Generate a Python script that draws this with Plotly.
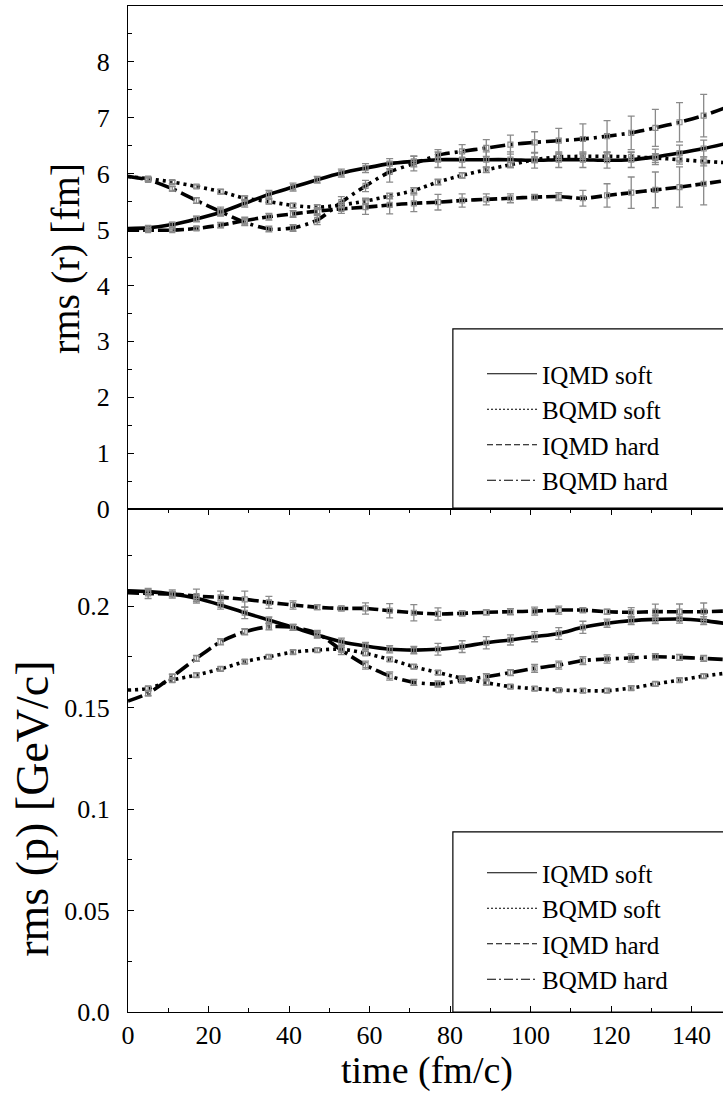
import plotly.graph_objects as go
from plotly.subplots import make_subplots

# ---------------- data ----------------
t_line = [0, 5, 11, 17, 23, 29, 35, 41, 47, 53, 59, 65, 71, 77, 83, 89, 95,
          101, 107, 113, 119, 125, 131, 137, 143, 148]

# rms(r) [fm]
iqmd_soft_r = [5.02, 5.03, 5.09, 5.19, 5.31, 5.47, 5.63, 5.76, 5.89, 6.01, 6.10, 6.18, 6.22,
               6.25, 6.25, 6.25, 6.25, 6.24, 6.25, 6.25, 6.24, 6.25, 6.30, 6.37, 6.45, 6.53]
bqmd_soft_r = [5.95, 5.91, 5.85, 5.77, 5.68, 5.56, 5.50, 5.43, 5.40, 5.44, 5.51, 5.60, 5.70,
               5.85, 5.97, 6.07, 6.16, 6.25, 6.30, 6.31, 6.31, 6.30, 6.28, 6.25, 6.22, 6.20]
iqmd_hard_r = [4.99, 4.99, 4.99, 5.02, 5.08, 5.16, 5.23, 5.28, 5.33, 5.37, 5.40, 5.44, 5.47,
               5.49, 5.52, 5.54, 5.56, 5.58, 5.59, 5.56, 5.61, 5.66, 5.71, 5.76, 5.82, 5.87]
bqmd_hard_r = [5.95, 5.89, 5.73, 5.52, 5.32, 5.13, 5.01, 5.03, 5.17, 5.49, 5.78, 6.03, 6.18,
               6.33, 6.40, 6.46, 6.52, 6.56, 6.59, 6.62, 6.67, 6.73, 6.82, 6.92, 7.04, 7.17]

# errors at t = 5 ... 143
err_iqmd_soft_r = [0.03, 0.04, 0.05, 0.06, 0.07, 0.07, 0.07, 0.06, 0.07, 0.08, 0.09, 0.10,
                   0.14, 0.14, 0.14, 0.14, 0.14, 0.14, 0.14, 0.14, 0.14, 0.14, 0.14, 0.15]
err_bqmd_soft_r = [0.03, 0.03, 0.03, 0.04, 0.04, 0.04, 0.04, 0.04, 0.04, 0.05, 0.05, 0.05,
                   0.05, 0.05, 0.05, 0.05, 0.05, 0.05, 0.06, 0.07, 0.08, 0.08, 0.08, 0.08]
err_iqmd_hard_r = [0.02, 0.02, 0.03, 0.05, 0.06, 0.06, 0.06, 0.06, 0.08, 0.13, 0.16, 0.15,
                   0.14, 0.12, 0.10, 0.08, 0.05, 0.07, 0.14, 0.21, 0.28, 0.32, 0.36, 0.38]
err_bqmd_hard_r = [0.03, 0.04, 0.05, 0.08, 0.06, 0.05, 0.06, 0.08, 0.10, 0.10, 0.18, 0.13,
                   0.10, 0.12, 0.15, 0.17, 0.19, 0.22, 0.27, 0.28, 0.30, 0.33, 0.35, 0.38]

# rms(p) [GeV/c]
iqmd_soft_p = [0.2075, 0.2071, 0.2059, 0.2038, 0.2005, 0.1967, 0.1931, 0.1895, 0.1857, 0.1824,
               0.1803, 0.1787, 0.1783, 0.1787, 0.1800, 0.1819, 0.1833, 0.1849, 0.1865, 0.1895,
               0.1915, 0.1928, 0.1934, 0.1936, 0.1928, 0.1915]
bqmd_soft_p = [0.1586, 0.1594, 0.1635, 0.1660, 0.1690, 0.1726, 0.1750, 0.1773, 0.1783, 0.1787,
               0.1767, 0.1737, 0.1701, 0.1672, 0.1644, 0.1622, 0.1603, 0.1593, 0.1586, 0.1583,
               0.1583, 0.1596, 0.1616, 0.1635, 0.1655, 0.1668]
iqmd_hard_p = [0.2066, 0.2062, 0.2059, 0.2049, 0.2043, 0.2033, 0.2018, 0.2005, 0.1994, 0.1988,
               0.1988, 0.1977, 0.1967, 0.1961, 0.1964, 0.1969, 0.1972, 0.1975, 0.1980, 0.1980,
               0.1972, 0.1969, 0.1972, 0.1972, 0.1972, 0.1975]
bqmd_hard_p = [0.1532, 0.1570, 0.1652, 0.1742, 0.1824, 0.1873, 0.1898, 0.1895, 0.1865, 0.1783,
               0.1709, 0.1655, 0.1624, 0.1616, 0.1635, 0.1652, 0.1672, 0.1693, 0.1709, 0.1731,
               0.1739, 0.1744, 0.1750, 0.1747, 0.1742, 0.1737]

err_iqmd_soft_p = [0.0010, 0.0012, 0.0015, 0.0020, 0.0029, 0.0015, 0.0015, 0.0015, 0.0018, 0.0018,
                   0.0018, 0.0018, 0.0029, 0.0029, 0.0030, 0.0025, 0.0025, 0.0029, 0.0030, 0.0020,
                   0.0020, 0.0020, 0.0020, 0.0020]
err_bqmd_soft_p = [0.0010] * 24
err_iqmd_hard_p = [0.0025, 0.0020, 0.0034, 0.0030, 0.0040, 0.0030, 0.0020, 0.0012, 0.0012, 0.0028,
                   0.0035, 0.0040, 0.0030, 0.0012, 0.0012, 0.0015, 0.0020, 0.0020, 0.0012, 0.0012,
                   0.0023, 0.0037, 0.0038, 0.0043]
err_bqmd_hard_p = [0.0012, 0.0012, 0.0015, 0.0015, 0.0015, 0.0015, 0.0015, 0.0015, 0.0022, 0.0020,
                   0.0020, 0.0015, 0.0015, 0.0015, 0.0015, 0.0015, 0.0020, 0.0020, 0.0020, 0.0020,
                   0.0020, 0.0015, 0.0015, 0.0015]

series_names = ["IQMD soft", "BQMD soft", "IQMD hard", "BQMD hard"]
y_ticks_r = [0, 1, 2, 3, 4, 5, 6, 7, 8]
y_ticks_p = [0.0, 0.05, 0.1, 0.15, 0.2]
y_ticktext_p = ["0.0", "0.05", "0.1", "0.15", "0.2"]
x_ticks = [0, 20, 40, 60, 80, 100, 120, 140]

# ---------------- styling ----------------
FONT = "Liberation Serif"
dashes = ["solid", "3px,4px", "11px,4px", "15px,5px,3px,5px"]
legend_dashes = ["solid", "2px,2px", "6px,3px", "9px,3px,2px,3px"]
GRAY = "#8a8a8a"

fig = make_subplots(rows=2, cols=1, shared_xaxes=True, vertical_spacing=0.0)

t_err = t_line[1:-1]
top = [(iqmd_soft_r, err_iqmd_soft_r), (bqmd_soft_r, err_bqmd_soft_r),
       (iqmd_hard_r, err_iqmd_hard_r), (bqmd_hard_r, err_bqmd_hard_r)]
bot = [(iqmd_soft_p, err_iqmd_soft_p), (bqmd_soft_p, err_bqmd_soft_p),
       (iqmd_hard_p, err_iqmd_hard_p), (bqmd_hard_p, err_bqmd_hard_p)]

for row, data, leg in [(1, top, "legend"), (2, bot, "legend2")]:
    for i, (vals, errs) in enumerate(data):
        fig.add_trace(go.Scatter(x=t_line, y=vals, mode="lines",
                                 line=dict(color="black", width=3.6, dash=dashes[i],
                                           shape="spline", smoothing=0.8),
                                 showlegend=False), row=row, col=1)
    for i, (vals, errs) in enumerate(data):
        fig.add_trace(go.Scatter(x=t_err, y=vals[1:-1], mode="markers",
                                 marker=dict(symbol="square-open", size=5, color=GRAY,
                                             line=dict(width=1.2, color=GRAY)),
                                 error_y=dict(type="data", array=errs, color=GRAY,
                                              thickness=1.3, width=3.5),
                                 showlegend=False), row=row, col=1)
    for i, name in enumerate(series_names):
        fig.add_trace(go.Scatter(x=[None], y=[None], mode="lines", name=name,
                                 line=dict(color="black", width=1.2, dash=legend_dashes[i]),
                                 legend=leg), row=row, col=1)

axis_common = dict(showline=True, linecolor="black", linewidth=1.3, showgrid=False,
                   zeroline=False, ticks="inside", tickcolor="black", ticklen=6,
                   automargin=False,
                   tickfont=dict(family=FONT, size=26, color="black"))

fig.update_xaxes(range=[0, 147.8], tickvals=x_ticks, **axis_common)
fig.update_xaxes(row=1, col=1, mirror=True, ticks="", showticklabels=False)
fig.update_xaxes(row=2, col=1, mirror="ticks", ticklabelstandoff=0,
                 minor=dict(ticks="inside", ticklen=4, dtick=10, tickcolor="black"))
fig.update_yaxes(row=1, col=1, range=[0, 9.0], tickvals=y_ticks_r, ticklabelstandoff=12,
                 minor=dict(ticks="inside", ticklen=4, dtick=0.5, tickcolor="black"),
                 **axis_common)
fig.update_yaxes(row=2, col=1, range=[0, 0.2478], tickvals=y_ticks_p, ticktext=y_ticktext_p,
                 ticklabelstandoff=12,
                 minor=dict(ticks="inside", ticklen=4, dtick=0.025, tickcolor="black"),
                 **axis_common)

legend_style = dict(font=dict(family=FONT, size=25, color="black"), bgcolor="rgba(0,0,0,0)",
                    borderwidth=0, xanchor="left", yanchor="top", itemwidth=50,
                    tracegroupgap=0, xref="container", yref="container")
fig.update_layout(
    width=723, height=1097,
    margin=dict(l=128, r=0, t=6, b=85, autoexpand=False),
    plot_bgcolor="white", paper_bgcolor="white",
    legend=dict(x=482 / 723, y=1 - 351 / 1097, **legend_style),
    legend2=dict(x=482 / 723, y=1 - 850 / 1097, **legend_style),
    shapes=[
        dict(type="rect", xref="paper", yref="paper", x0=0.546, x1=1.2, y0=0.501, y1=0.679,
             line=dict(color="black", width=1.2)),
        dict(type="rect", xref="paper", yref="paper", x0=0.546, x1=1.2, y0=0.0, y1=0.179,
             line=dict(color="black", width=1.2)),
    ],
    annotations=[
        dict(text="rms (r) [fm]", xref="paper", yref="paper", x=-0.106, y=0.7495,
             textangle=-90, showarrow=False, xanchor="center", yanchor="middle",
             font=dict(family=FONT, size=40, color="black")),
        dict(text="rms (p) [GeV/c]", xref="paper", yref="paper", x=-0.160, y=0.2018,
             textangle=-90, showarrow=False, xanchor="center", yanchor="middle",
             font=dict(family=FONT, size=46, color="black")),
        dict(text="time (fm/c)", xref="paper", yref="paper", x=0.5025, y=-0.0577,
             showarrow=False, xanchor="center", yanchor="middle",
             font=dict(family=FONT, size=38, color="black")),
    ],
)

fig.write_html("out.html", config={"displayModeBar": False},
               post_script="document.body.style.margin='0';document.body.style.padding='0';")
